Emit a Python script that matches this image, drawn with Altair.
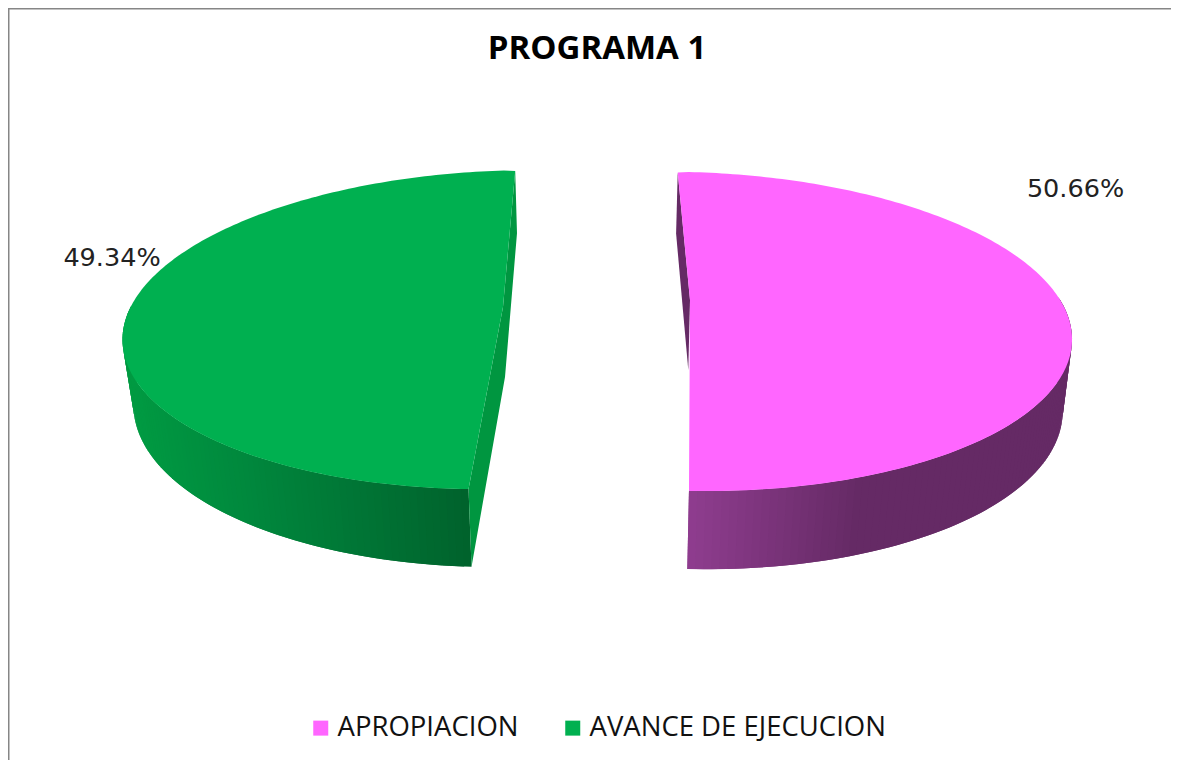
import math
import altair as alt

W, H = 1163, 752
ORIGIN = 8

# values
series = ["APROPIACION", "AVANCE DE EJECUCION"]
percent = [50.66, 49.34]
label_text = ["50.66%", "49.34%"]
label_x = [1075.5, 112]
label_y = [189, 258]
face_colors = ["#FF66FF", "#00B050"]
inner_colors = ["#652A65", "#009640"]
start_angle = [-2.25, 184.5]

# wall shading: colour stops and the x span they are spread over
wall_stops = [["#8F3D8F", "#652A65"], ["#00622C", "#007535", "#00883D", "#009A42"]]
wall_span = [(688, 860), (470, 130)]
wall_range = [(85, None), (None, 275)]

# perspective discs: apex x, apex y, back/front slope, tilt, radius, side sag
top_disc = [(690.0, 300.0, -94.0, 0.1975, 374.5, 8.0), (503.0, 307.0, -112.1, 0.1429, 376.6, 10.0)]
base_disc = [(688.3, 370.0, -94.0, 0.1845, 368.0, 10.0), (505.0, 377.0, -112.0, 0.1377, 368.0, 5.0)]


def rim(disc, deg):
    ax, ay, b, k, r, sag = disc
    u, v = math.sin(math.radians(deg)), math.cos(math.radians(deg))
    d = 1 + k * v
    return [round(ax + r * u / d, 2), round((ay + b * v) / d + sag * abs(u), 2)]


def hexmix(c1, c2, t):
    a = [int(c1[i:i + 2], 16) for i in (1, 3, 5)]
    b = [int(c2[i:i + 2], 16) for i in (1, 3, 5)]
    return "#" + "".join(f"{round(x + (y - x) * t):02x}" for x, y in zip(a, b))


def shade(stops, t):
    t = min(max(t, 0), 1) * (len(stops) - 1)
    i = min(int(t), len(stops) - 2)
    return hexmix(stops[i], stops[i + 1], t - i)


def feature(ring, **props):
    return {"type": "Feature", "properties": props,
            "geometry": {"type": "Polygon", "coordinates": [ring + [ring[0]]]}}


walls, inners, faces = [], [], []
for i, name in enumerate(series):
    a0 = start_angle[i]
    sweep = percent[i] * 3.6
    a1 = a0 + sweep
    n = 180
    angles = [a0 + sweep * j / n for j in range(n + 1)]
    lo = wall_range[i][0] if wall_range[i][0] is not None else a0
    hi = wall_range[i][1] if wall_range[i][1] is not None else a1
    strips = [a for a in angles if lo <= a <= hi]
    # each strip overlaps the next one, so that no seam shows
    pieces = []
    for j in range(len(strips) - 1):
        a = strips[j]
        b = strips[min(j + 2, len(strips) - 1)]
        x = rim(top_disc[i], (a + strips[j + 1]) / 2)[0]
        s0, s1 = wall_span[i]
        c = shade(wall_stops[i], (x - s0) / (s1 - s0))
        pieces.append(feature([rim(top_disc[i], a), rim(top_disc[i], b),
                               rim(base_disc[i], b), rim(base_disc[i], a)], shade=c))
    walls.extend(pieces)
    t_apex = [top_disc[i][0], top_disc[i][1]]
    b_apex = [base_disc[i][0], base_disc[i][1]]
    if i == 0:
        ring = [rim(top_disc[i], a0), t_apex, b_apex, rim(base_disc[i], a0)]
    else:
        ring = [rim(top_disc[i], a0), t_apex, rim(top_disc[i], a1),
                rim(base_disc[i], a1), b_apex, rim(base_disc[i], a0)]
    inners.append(feature(ring, shade=inner_colors[i]))
    faces.append(feature([t_apex] + [rim(top_disc[i], a) for a in angles], name=name))

L = ORIGIN
frame = [{"type": "Feature", "properties": {},
          "geometry": {"type": "LineString",
                       "coordinates": [[L, L + H], [L, L], [L + W, L]]}}]

geo = dict(type="identity", scale=1, translate=[-L, -L])

frame_layer = alt.Chart(alt.Data(values=frame)).mark_geoshape(
    filled=False, stroke="#868686", strokeWidth=3
).project(**geo)

wall_layer = alt.Chart(alt.Data(values=walls + inners)).mark_geoshape(strokeWidth=0).encode(
    fill=alt.Fill("properties.shade:N", scale=None),
).project(**geo)

face_layer = alt.Chart(alt.Data(values=faces)).mark_geoshape(strokeWidth=0).encode(
    fill=alt.Fill(
        "properties.name:N",
        scale=alt.Scale(domain=series, range=face_colors),
        legend=alt.Legend(
            title=None, orient="none", direction="horizontal",
            legendX=299, legendY=706,
            symbolType="square", symbolSize=225, symbolStrokeWidth=0,
            labelFont="Open Sans", labelFontSize=27.5, labelColor="#111111",
            labelOffset=3, columnPadding=40, labelLimit=400,
        ),
    )
).project(**geo)

labels = alt.Chart(alt.Data(values=[
    {"label": t, "x": x, "y": y} for t, x, y in zip(label_text, label_x, label_y)
])).mark_text(font="DejaVu Sans", fontSize=25.5, color="#222222").encode(
    x=alt.X("x:Q", scale=alt.Scale(domain=[L, L + W], nice=False, zero=False), axis=None),
    y=alt.Y("y:Q", scale=alt.Scale(domain=[L, L + H], nice=False, zero=False, reverse=True), axis=None),
    text="label:N",
)

chart = alt.layer(frame_layer, wall_layer, face_layer, labels).resolve_scale(
    fill="independent"
).properties(
    width=W, height=H, padding=0,
    autosize=alt.AutoSizeParams(type="none"),
    title=alt.TitleParams(
        "PROGRAMA 1", font="Open Sans", fontSize=33, fontWeight="bold", color="#000000",
        anchor="middle", frame="group", dx=7.5, dy=58, offset=0,
    ),
).configure_view(stroke=None)

chart.save("out.html", embed_options={"renderer": "svg", "actions": False})
